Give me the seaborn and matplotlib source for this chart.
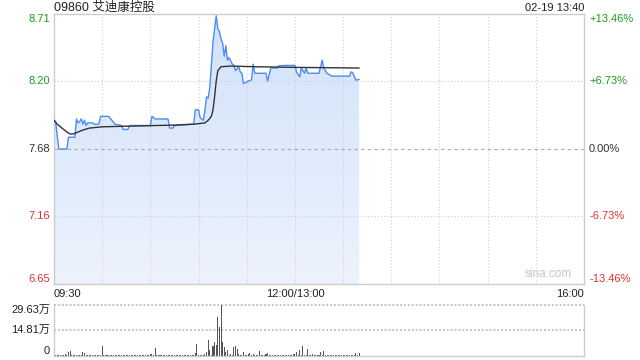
import numpy as np
import matplotlib
matplotlib.use('Agg')
import matplotlib.pyplot as plt
import matplotlib.transforms as mtransforms
from matplotlib.colors import LinearSegmentedColormap
import seaborn as sns

# ---------------- data ----------------
title = '09860 艾迪康控股'
stamp = '02-19 13:40'
prev_close = 7.68
price_labels = ['8.71', '8.20', '7.68', '7.16', '6.65']
pct_levels = [0.1346, 0.0673, 0.0, -0.0673, -0.1346]
pct_labels = ['+13.46%', '+6.73%', '0.00%', '-6.73%', '-13.46%']
time_labels = ['09:30', '12:00/13:00', '16:00']
time_pos = [0, 150, 330]
vol_max = 29.63
vol_levels = [29.63, 14.81, 0]
vol_labels = ['29.63万', '14.81万', '0']

# price line (minute index since 09:30, lunch collapsed; price)
price_min = [0, 1, 3, 8, 9, 13, 14, 15, 16, 17, 18, 19, 20, 21, 24, 25, 28, 29, 34, 36,
             38, 42, 43, 46, 47, 60, 61, 63, 71, 72, 74, 75, 87, 88, 90, 91, 93, 94, 95, 96,
             97, 99, 101, 102, 103, 104, 105, 106, 107, 108, 109, 111, 112, 113, 115, 116, 117, 118, 121, 123,
             124, 125, 132, 133, 135, 139, 140, 144, 150, 151, 153, 154, 156, 157, 158, 165, 167, 168, 170, 173,
             184, 185, 186, 188, 190]
price_val = [7.90, 7.89, 7.68, 7.68, 7.77, 7.77, 7.91, 7.88, 7.89, 7.91, 7.87, 7.90, 7.86, 7.88, 7.88, 7.87, 7.87, 7.93, 7.93, 7.90,
             7.87, 7.86, 7.83, 7.83, 7.86, 7.86, 7.93, 7.91, 7.91, 7.84, 7.84, 7.86, 7.87, 7.98, 7.98, 7.92, 7.90, 7.98, 8.08, 8.07,
             8.15, 8.50, 8.70, 8.60, 8.58, 8.52, 8.49, 8.39, 8.47, 8.36, 8.38, 8.33, 8.32, 8.28, 8.31, 8.27, 8.26, 8.18, 8.20, 8.21,
             8.33, 8.26, 8.26, 8.20, 8.30, 8.30, 8.317, 8.32, 8.32, 8.27, 8.233, 8.30, 8.26, 8.30, 8.26, 8.26, 8.36, 8.30, 8.26, 8.238,
             8.238, 8.27, 8.265, 8.207, 8.213]

# average price line
avg_min = [0, 2, 5, 8, 10, 12, 15, 18, 22, 30, 50, 75, 88, 94, 96, 98, 99, 100, 101, 102, 104, 110, 125, 150, 190]
avg_val = [7.90, 7.87, 7.84, 7.81, 7.795, 7.795, 7.81, 7.825, 7.84, 7.85, 7.856, 7.863, 7.871, 7.88, 7.90, 7.93, 7.98, 8.08, 8.20, 8.28, 8.31, 8.315, 8.31, 8.305, 8.30]

# volume per minute (万)
volume = [1.2, 0.4, 0.6, 0.3, 0.8, 0.5, 0.4, 0.9, 0.6, 2.4,
          2.9, 0.5, 0.7, 0.4, 0.6, 0.8, 0.5, 0.4, 2.4, 1.6,
          0.6, 0.4, 0.5, 0.8, 0.3, 0.6, 0.5, 0.4, 0.7, 0.5,
          5.9, 0.6, 0.4, 0.3, 0.5, 0.7, 0.4, 0.6, 0.3, 0.5,
          0.8, 0.4, 0.6, 0.5, 0.3, 0.7, 0.4, 0.5, 0.6, 0.3,
          0.5, 0.8, 0.4, 0.6, 0.5, 0.3, 0.6, 0.4, 0.7, 0.5,
          0.9, 1.2, 0.6, 4.7, 0.8, 0.5, 0.4, 0.6, 0.3, 0.5,
          0.4, 0.6, 0.5, 0.3, 0.7, 0.4, 0.5, 0.6, 0.4, 0.3,
          0.5, 0.4, 0.6, 0.3, 0.5, 0.4, 0.6, 0.8, 1.5, 6.7,
          0.8, 0.6, 0.5, 0.7, 1.0, 2.5, 9.4, 3.3, 0.8, 5.9,
          7.8, 6.3, 22.5, 16.7, 29.63, 7.8, 5.3, 2.5, 3.7, 0.6,
          1.0, 0.8, 4.9, 5.9, 3.9, 0.9, 0.6, 0.5, 2.5, 0.7,
          0.6, 0.9, 2.0, 0.5, 1.0, 0.6, 0.8, 0.5, 2.9, 0.6,
          0.5, 0.7, 0.9, 2.0, 0.6, 0.4, 0.5, 0.7, 0.4, 0.6,
          0.5, 0.4, 0.6, 0.3, 0.5, 0.6, 0.4, 0.7, 0.5, 0.9,
          1.2, 2.4, 0.8, 3.5, 0.6, 5.5, 0.7, 0.5, 4.3, 0.6,
          0.5, 0.9, 0.6, 0.8, 0.4, 0.6, 2.5, 0.5, 3.1, 0.6,
          0.4, 0.5, 0.3, 0.6, 0.4, 0.5, 0.3, 0.6, 0.4, 0.5,
          0.4, 0.6, 0.3, 0.5, 0.4, 0.7, 0.5, 0.4, 2.0, 0.6,
          1.5]
vol_min = list(range(len(volume)))

# ---------------- style ----------------
sns.set_theme(style='white')
plt.rcParams['font.family'] = ['Liberation Sans', 'Noto Sans CJK SC', 'DejaVu Sans']
GREEN = '#1a9f1a'
RED = '#e23232'
DARK = '#333333'
BORDER = '#cccccc'

W, H = 640, 360
fig = plt.figure(figsize=(6.4, 3.6), dpi=100)


def rect(l, t, r, b):
    return [l / W, 1 - b / H, (r - l) / W, (b - t) / H]


ax = fig.add_axes(rect(54, 14, 584, 284))
axv = fig.add_axes(rect(54, 304.5, 584, 356))

lo = prev_close * (1 - 0.1346)
hi = prev_close * (1 + 0.1346)

# gradient fill under the price line
poly = ax.fill_between(price_min, price_val, lo, color='none', linewidth=0)
cmap = LinearSegmentedColormap.from_list('g', ['#edf3fd', '#d2e2fb'])
grad = np.linspace(0, 1, 256).reshape(-1, 1)
im = ax.imshow(grad, extent=[0, 330, lo, hi], origin='lower', aspect='auto', cmap=cmap, zorder=1)
im.set_clip_path(poly.get_paths()[0], transform=ax.transData)

# grid (drawn over the fill)
for t in range(30, 330, 30):
    ax.axvline(t, color='#cfcfcf', lw=0.8, ls=(0, (1, 2)), zorder=2)
for p in [0.0673, -0.0673]:
    ax.axhline(prev_close * (1 + p), color='#cfcfcf', lw=0.8, ls=(0, (1, 2)), zorder=2)
ax.axhline(prev_close, color='#aaaaaa', lw=0.8, ls=(0, (3, 3)), zorder=2)

sns.lineplot(x=price_min, y=price_val, ax=ax, color='#4b8cf5', lw=1.0,
             estimator=None, sort=False, zorder=4)
sns.lineplot(x=avg_min, y=avg_val, ax=ax, color=DARK, lw=1.0,
             estimator=None, sort=False, zorder=5)

ax.set_xlim(0, 330)
ax.set_ylim(lo, hi)
ax.set_xticks([])
ax.set_yticks([])
ax.set_xlabel('')
ax.set_ylabel('')
for s in ax.spines.values():
    s.set_color(BORDER)
    s.set_linewidth(1)

# price labels
left_tr = mtransforms.offset_copy(ax.get_yaxis_transform(), fig=fig, x=-4, y=0, units='dots')
right_tr = mtransforms.offset_copy(ax.get_yaxis_transform(), fig=fig, x=5, y=0, units='dots')
for i, (lab, p, plab) in enumerate(zip(price_labels, pct_levels, pct_labels)):
    col = GREEN if p > 0 else (RED if p < 0 else DARK)
    va = 'top' if i == 0 else ('bottom' if i == len(pct_levels) - 1 else 'center')
    yv = prev_close * (1 + p)
    ax.text(0, yv, lab, transform=left_tr, ha='right', va=va, color=col, fontsize=8)
    ax.text(1, yv, plab, transform=right_tr, ha='left', va=va, color=col, fontsize=8)

# time labels
time_tr = mtransforms.offset_copy(ax.get_xaxis_transform(), fig=fig, x=0, y=-5, units='dots')
for lab, pos in zip(time_labels, time_pos):
    ha = 'left' if pos == 0 else ('right' if pos == 330 else 'center')
    ax.text(pos, 0, lab, transform=time_tr, ha=ha, va='top', color='#222222', fontsize=8)

ax.text(0.978, 0.015, 'sina.com', transform=ax.transAxes, ha='right', va='bottom',
        color='#c4c4c4', fontsize=8.5)

# title & stamp
fig.text(54 / W, 1 - 8 / H, title, ha='left', va='center', fontsize=9, color='#222222')
fig.text(584 / W, 1 - 8 / H, stamp, ha='right', va='center', fontsize=8, color='#222222')

# ---------------- volume ----------------
sns.barplot(x=vol_min, y=volume, ax=axv, native_scale=True, color='#555555',
            width=0.65, linewidth=0, saturation=1)
axv.set_xlim(0, 330)
axv.set_ylim(0, vol_max)
axv.set_xticks([])
axv.set_yticks([])
axv.set_xlabel('')
axv.set_ylabel('')
axv.spines['top'].set_visible(False)
for k in ['left', 'right', 'bottom']:
    axv.spines[k].set_color(BORDER)
    axv.spines[k].set_linewidth(1)
for lv in [vol_max, vol_max / 2]:
    axv.axhline(lv, color='#c4c4c4', lw=1.4, ls=(0, (1, 1)), zorder=0.5, clip_on=False)

vleft_tr = mtransforms.offset_copy(axv.get_yaxis_transform(), fig=fig, x=-4, y=0, units='dots')
for i, (lv, lab) in enumerate(zip(vol_levels, vol_labels)):
    va = 'top' if i == 0 else ('bottom' if i == len(vol_levels) - 1 else 'center')
    axv.text(0, lv, lab, transform=vleft_tr, ha='right', va=va, color='#222222', fontsize=8)

fig.savefig('out.png', dpi=100)
